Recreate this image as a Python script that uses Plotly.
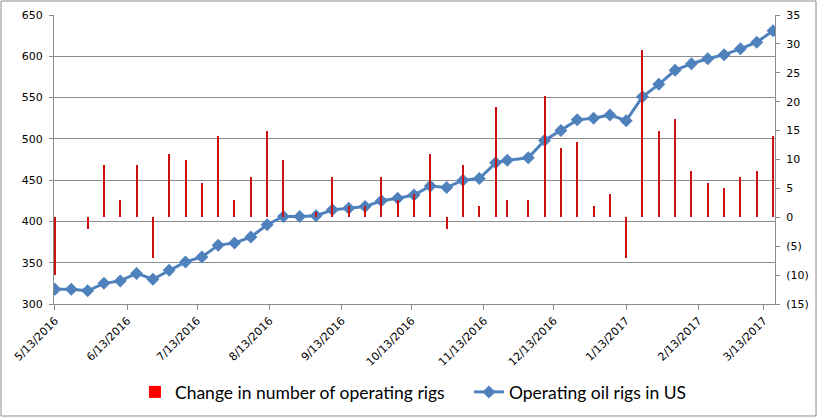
import plotly.graph_objects as go

dates = ["2016-05-13", "2016-05-20", "2016-05-27", "2016-06-03", "2016-06-10", "2016-06-17",
         "2016-06-24", "2016-07-01", "2016-07-08", "2016-07-15", "2016-07-22", "2016-07-29",
         "2016-08-05", "2016-08-12", "2016-08-19", "2016-08-26", "2016-09-02", "2016-09-09",
         "2016-09-16", "2016-09-23", "2016-09-30", "2016-10-07", "2016-10-14", "2016-10-21",
         "2016-10-28", "2016-11-04", "2016-11-11", "2016-11-18", "2016-11-23", "2016-12-02",
         "2016-12-09", "2016-12-16", "2016-12-23", "2016-12-30", "2017-01-06", "2017-01-13",
         "2017-01-20", "2017-01-27", "2017-02-03", "2017-02-10", "2017-02-17", "2017-02-24",
         "2017-03-03", "2017-03-10", "2017-03-17"]

rigs = [318, 318, 316, 325, 328, 337, 330, 341, 351, 357, 371, 374, 381, 396, 406, 406, 407,
        414, 416, 418, 425, 428, 432, 443, 441, 450, 452, 471, 474, 477, 498, 510, 523, 525,
        529, 522, 551, 566, 583, 591, 597, 602, 609, 617, 631]

changes = [-10, 0, -2, 9, 3, 9, -7, 11, 10, 6, 14, 3, 7, 15, 10, 0, 1, 7, 2, 2, 7, 3, 4, 11,
           -2, 9, 2, 19, 3, 3, 21, 12, 13, 2, 4, -7, 29, 15, 17, 8, 6, 5, 7, 8, 14]

x_tick_vals = ["2016-05-13", "2016-06-13", "2016-07-13", "2016-08-13", "2016-09-13",
               "2016-10-13", "2016-11-13", "2016-12-13", "2017-01-13", "2017-02-13", "2017-03-13"]
x_tick_text = ["5/13/2016", "6/13/2016", "7/13/2016", "8/13/2016", "9/13/2016", "10/13/2016",
               "11/13/2016", "12/13/2016", "1/13/2017", "2/13/2017", "3/13/2017"]
left_ticks = [300, 350, 400, 450, 500, 550, 600, 650]
right_ticks = [-15, -10, -5, 0, 5, 10, 15, 20, 25, 30, 35]
right_tick_text = ["(15)", "(10)", "(5)", "0", "5", "10", "15", "20", "25", "30", "35"]

BAR_NAME = "Change in number of operating rigs"
LINE_NAME = "Operating oil rigs in US"
GRID = "#8c8c8c"

fig = go.Figure()
fig.add_trace(go.Bar(x=dates, y=changes, yaxis="y2", name=BAR_NAME, showlegend=False,
                     marker=dict(color="#cc1010", line=dict(width=0)),
                     width=0.45 * 86400000))
fig.add_trace(go.Bar(x=[None], y=[None], yaxis="y2", name=BAR_NAME,
                     marker=dict(color="#ff0000", line=dict(width=0))))
fig.add_trace(go.Scatter(x=dates, y=rigs, name=LINE_NAME, mode="lines+markers",
                         line=dict(color="#4f81bd", width=3),
                         marker=dict(symbol="diamond", size=10, color="#4f81bd")))

fig.update_layout(
    width=818, height=418,
    margin=dict(l=54, r=43, t=15, b=114, autoexpand=False),
    paper_bgcolor="white", plot_bgcolor="white",
    font=dict(family="DejaVu Sans", size=11, color="#000000"),
    xaxis=dict(type="date", range=["2016-05-12 14:00", "2017-03-17 20:00"],
               tickvals=x_tick_vals, ticktext=x_tick_text, tickangle=-45,
               ticks="outside", ticklen=5, tickcolor=GRID, automargin=False,
               showline=True, linecolor=GRID, linewidth=1, showgrid=False, zeroline=False),
    yaxis=dict(range=[300, 650], tickvals=left_ticks, ticks="outside", ticklen=4,
               tickcolor=GRID, showline=True, linecolor=GRID, showgrid=True, automargin=False,
               gridcolor=GRID, gridwidth=1, zeroline=False, ticklabelstandoff=4),
    yaxis2=dict(range=[-15, 35], tickvals=right_ticks, ticktext=right_tick_text,
                overlaying="y", side="right", ticks="outside", ticklen=4, tickcolor=GRID,
                showline=True, linecolor=GRID, showgrid=False, zeroline=False, automargin=False,
                ticklabelstandoff=4),
    legend=dict(orientation="h", x=0.1123, xanchor="left", y=-0.3045, yanchor="middle",
                font=dict(family="Lato", size=17.5),
                entrywidth=289, entrywidthmode="pixels",
                itemwidth=30, traceorder="normal"),
    bargap=0,
    shapes=[dict(type="rect", xref="paper", yref="paper", x0=-0.0735, x1=1.0569,
                 y0=-0.3875, y1=1.0484, line=dict(color=GRID, width=1), layer="below")],
)

fig.write_html("out.html", config={"displayModeBar": False},
               post_script="document.body.style.margin='0';document.body.style.overflow='hidden';")
